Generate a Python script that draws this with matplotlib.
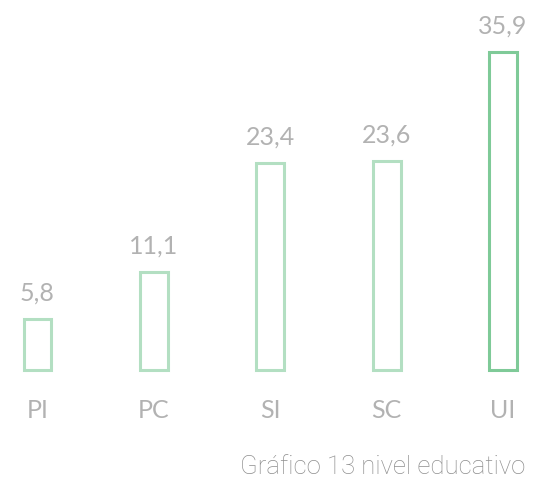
import matplotlib
matplotlib.use('Agg')
import matplotlib.pyplot as plt

categories = ['PI', 'PC', 'SI', 'SC', 'UI']
values = [5.8, 11.1, 23.4, 23.6, 35.9]
value_labels = ['5,8', '11,1', '23,4', '23,6', '35,9']
edge_colors = ['#b3dfc2', '#b3dfc2', '#b3dfc2', '#b3dfc2', '#7fca98']
caption = 'Gráfico 13 nivel educativo'

fig = plt.figure(figsize=(5.33, 4.78), dpi=100)
ax = fig.add_axes([0, 0.226, 1, 0.774])

x = list(range(len(categories)))
bars = ax.bar(x, values, width=0.24, facecolor='white', edgecolor=edge_colors, linewidth=2.2)
for b in bars:
    b.set_clip_on(False)

for xi, v, lab in zip(x, values, value_labels):
    ax.annotate(lab, (xi, v), xytext=(0, 13), textcoords='offset points',
                ha='center', va='baseline', fontsize=18, color='#b2b2b2',
                family='Lato')

for xi, cat in zip(x, categories):
    ax.annotate(cat, (xi, 0), xytext=(0, -34.5), textcoords='offset points',
                ha='center', va='baseline', fontsize=18, color='#b2b2b2',
                family='Lato')

ax.set_xlim(-0.322, 4.257)
ax.set_ylim(0, 41.76)
ax.axis('off')

fig.text(0.985, 0.008, caption, ha='right', va='baseline', fontsize=18.5,
         color='#8f8f8f', family='Roboto', fontweight='light')

fig.savefig('out.png', dpi=100)
